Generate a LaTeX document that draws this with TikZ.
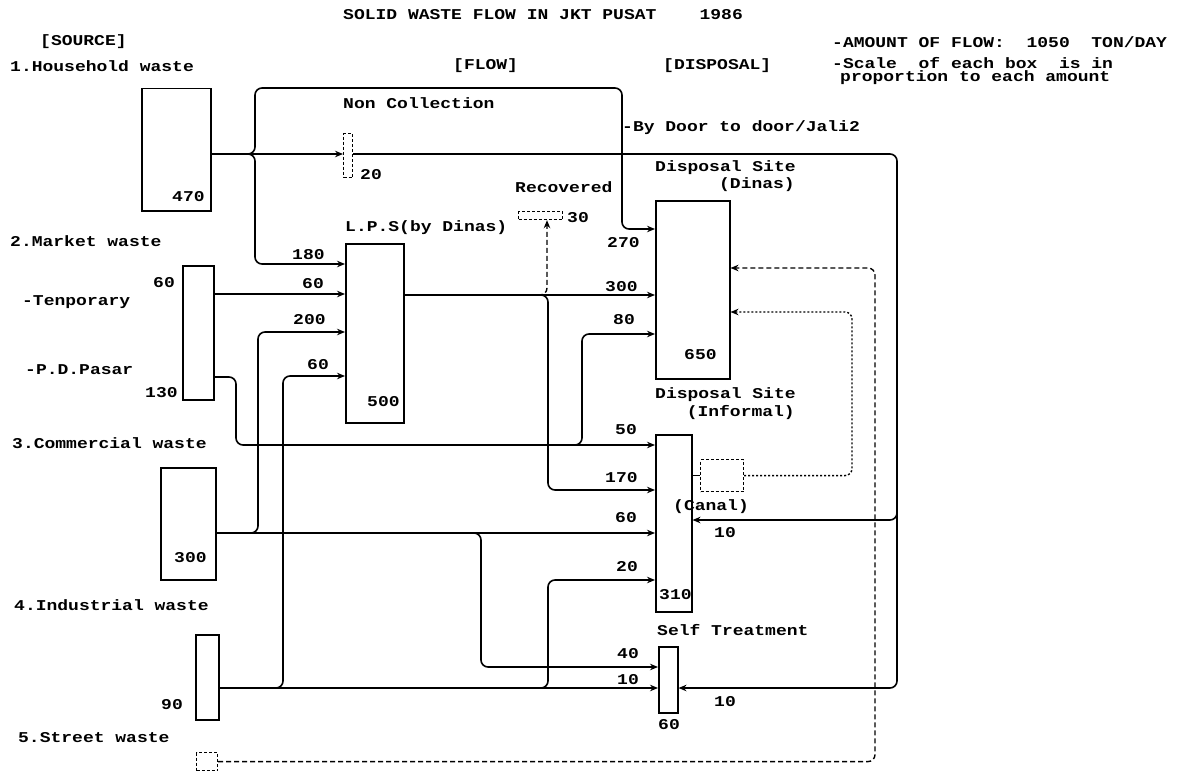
\documentclass[tikz,border=0pt]{standalone}
\usepackage{fontspec}
\setmainfont{Liberation Mono}[FakeStretch=1.2]
\usetikzlibrary{arrows.meta}
\begin{document}
\begin{tikzpicture}[x=1pt,y=-1pt,
  box/.style={draw,line width=1.5pt,inner sep=0pt,anchor=north west},
  dbox/.style={box,dash pattern=on 3pt off 2pt,line width=1.2pt},
  flow/.style={line width=1.6pt,rounded corners=7pt},
  arr/.style={-{Stealth[length=8pt,width=6.5pt]}},
  dashline/.style={line width=1.4pt,rounded corners=7pt,dash pattern=on 5pt off 3pt},
  dotline/.style={line width=1.4pt,rounded corners=7pt,dash pattern=on 2pt off 2pt},
  lbl/.style={anchor=west,inner sep=0pt,font=\fontsize{15}{17}\selectfont\bfseries}]
\useasboundingbox (0,0) rectangle (1178,773);
% boxes
\node[box,minimum width=69,minimum height=122] (hh) at (141,88) {};
\node[box,minimum width=31,minimum height=134] (mk) at (182,265) {};
\node[box,minimum width=55,minimum height=112] (cm) at (160,467) {};
\node[box,minimum width=23,minimum height=85] (ind) at (195,634) {};
\node[dbox,minimum width=21,minimum height=18] (st) at (196,752) {};
\node[dbox,minimum width=9,minimum height=44] (nc) at (343,133) {};
\node[box,minimum width=58,minimum height=179] (lps) at (345,243) {};
\node[dbox,minimum width=44,minimum height=8] (rec) at (518,211) {};
\node[box,minimum width=74,minimum height=178] (dn) at (655,200) {};
\node[box,minimum width=36,minimum height=177] (inf) at (655,434) {};
\node[dbox,minimum width=43,minimum height=32] (can) at (700,459) {};
\node[box,minimum width=19,minimum height=66] (self) at (658,646) {};
% texts
\node[lbl] (title) at (343,15) {SOLID WASTE FLOW IN JKT PUSAT~~~~1986};
\node[lbl] (tsrc) at (40,42) {[SOURCE]};
\node[lbl] (t1) at (10,66) {1.Household waste};
\node[lbl] (tflow) at (453,66) {[FLOW]};
\node[lbl] (tdisp) at (663,66) {[DISPOSAL]};
\node[lbl] (tamt) at (832,42) {-AMOUNT OF FLOW:~~1050~~TON/DAY};
\node[lbl] (tsc1) at (832,63) {-Scale~~of each box~~is in};
\node[lbl] (tsc2) at (840,78) {proportion to each amount};
\node[lbl] (tnc) at (343,103) {Non Collection};
\node[lbl] (n20) at (360,175) {20};
\node[lbl] (tdoor) at (622,128) {-By Door to door/Jali2};
\node[lbl] (tds1) at (655,168) {Disposal Site};
\node[lbl,anchor=east] (tds2) at (795,185) {(Dinas)};
\node[lbl] (trec) at (515,187) {Recovered};
\node[lbl] (n30) at (567,218) {30};
\node[lbl] (tlps) at (345,228) {L.P.S(by Dinas)};
\node[lbl] (n270) at (607,243) {270};
\node[lbl] (n470) at (172,197) {470};
\node[lbl] (t2) at (10,241) {2.Market waste};
\node[lbl] (n180) at (292,255) {180};
\node[lbl] (nmk60) at (153,283) {60};
\node[lbl] (ntmp60) at (302,284) {60};
\node[lbl] (ttmp) at (22,302) {-Tenporary};
\node[lbl] (n300a) at (605,287) {300};
\node[lbl] (n200) at (293,320) {200};
\node[lbl] (n80) at (613,320) {80};
\node[lbl] (n60d) at (307,365) {60};
\node[lbl] (tpd) at (25,370) {-P.D.Pasar};
\node[lbl] (n130) at (145,393) {130};
\node[lbl] (n500) at (367,402) {500};
\node[lbl] (n650) at (684,355) {650};
\node[lbl] (tdi1) at (655,395) {Disposal Site};
\node[lbl,anchor=east] (tdi2) at (795,413) {(Informal)};
\node[lbl] (n50) at (615,430) {50};
\node[lbl] (t3) at (12,443) {3.Commercial waste};
\node[lbl] (n170) at (605,478) {170};
\node[lbl] (tcan) at (673,507) {(Canal)};
\node[lbl] (n60i) at (615,518) {60};
\node[lbl] (n10c) at (714,533) {10};
\node[lbl] (n300) at (174,558) {300};
\node[lbl] (n20i) at (616,567) {20};
\node[lbl] (n310) at (659,595) {310};
\node[lbl] (t4) at (14,605) {4.Industrial waste};
\node[lbl] (tself) at (657,630) {Self Treatment};
\node[lbl] (n40) at (617,654) {40};
\node[lbl] (n10s) at (617,680) {10};
\node[lbl] (n10r) at (714,702) {10};
\node[lbl] (n90) at (161,705) {90};
\node[lbl] (n60s) at (658,725) {60};
\node[lbl] (t5) at (18,738) {5.Street waste};
% household flows
\draw[flow,arr] (hh.east |- 0,154) -- (nc.west |- 0,154);
\draw[flow,arr] (hh.east |- 0,154) -| (255,88) -| (622,229) -- (dn.west |- 0,229);
\draw[flow,arr] (hh.east |- 0,154) -| (255,264) -- (lps.west |- 0,264);
% non collection onwards
\draw[flow,arr] (nc.east |- 0,154) -| (897,688) -- (self.east |- 0,688);
\draw[flow,arr] (897,500) |- (inf.east |- 0,520);
% market
\draw[flow,arr] (mk.east |- 0,294) -- (lps.west |- 0,294);
\draw[flow,arr] (mk.east |- 0,377) -| (236,445) -- (inf.west |- 0,445);
\draw[flow,arr] (560,445) -| (582,334) -- (dn.west |- 0,334);
% LPS out
\draw[flow,arr] (lps.east |- 0,295) -- (dn.west |- 0,295);
\draw[flow,arr] (535,295) -| (548,490) -- (inf.west |- 0,490);
\draw[dashline,arr] (538,295) -| (rec.south -| 547,0);
% commercial
\draw[flow,arr] (cm.east |- 0,533) -- (inf.west |- 0,533);
\draw[flow,arr] (cm.east |- 0,533) -| (258,332) -- (lps.west |- 0,332);
\draw[flow,arr] (465,533) -| (481,667) -- (self.west |- 0,667);
% industrial
\draw[flow,arr] (ind.east |- 0,688) -- (self.west |- 0,688);
\draw[flow,arr] (ind.east |- 0,688) -| (283,376) -- (lps.west |- 0,376);
\draw[flow,arr] (535,688) -| (548,580) -- (inf.west |- 0,580);
% street and canal returns
\draw[dashline,arr] (st.east) -| (875,268) -- (dn.east |- 0,268);
\draw[line width=1.4pt] (inf.east |- can.west) -- (can.west);
\draw[dotline,arr] (can.east) -| (852,312) -- (dn.east |- 0,312);
\end{tikzpicture}
\end{document}
